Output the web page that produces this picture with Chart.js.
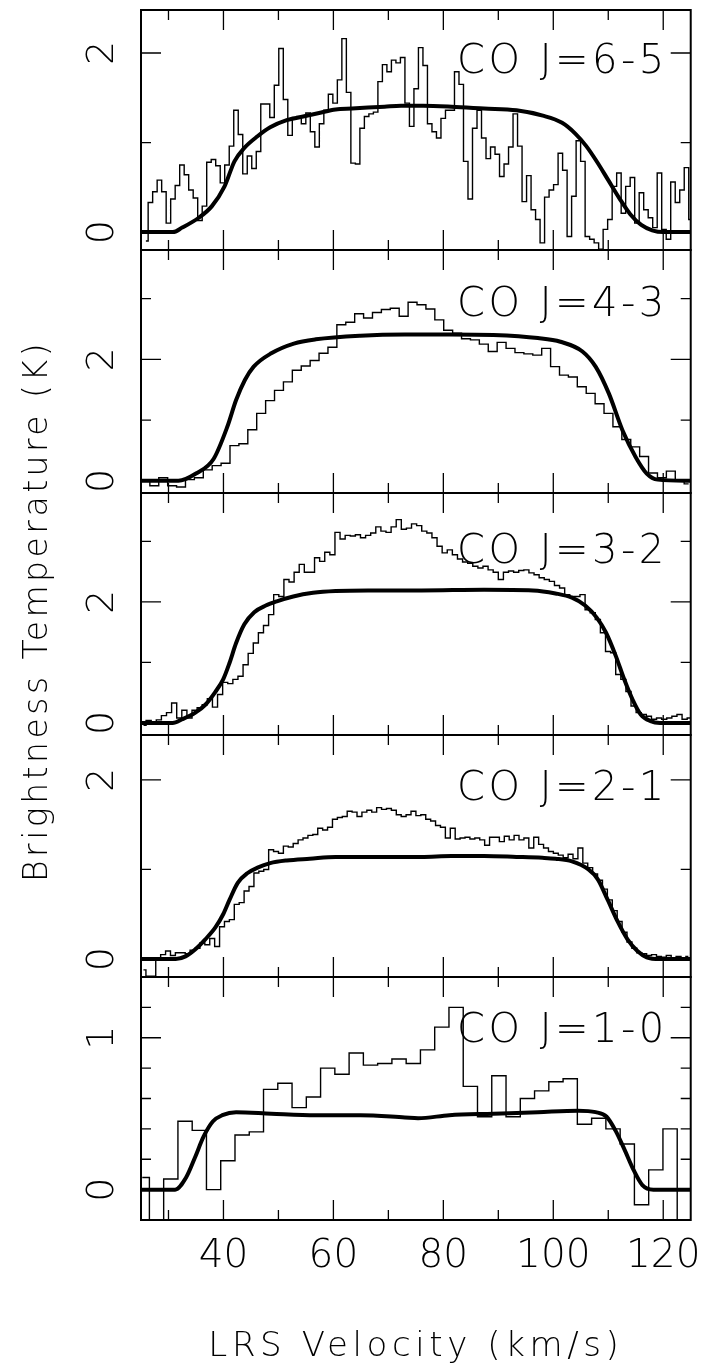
<!DOCTYPE html>
<html>
<head>
<meta charset="utf-8">
<script src="https://cdn.jsdelivr.net/npm/chart.js@4/dist/chart.umd.min.js"></script>
<style>
  html, body { margin: 0; padding: 0; background: #fff; }
  #wrap { width: 714px; height: 1368px; }
</style>
</head>
<body>
<div id="wrap"><canvas id="chart-co-ladder" width="714" height="1368"></canvas></div>
<script>
// velocity axis (km/s)
const velocityMin = 25;
const velocityMax = 125;
const velocityTicks = [30, 40, 50, 60, 70, 80, 90, 100, 110, 120];
const velocityLabels = [40, 60, 80, 100, 120];

// one panel per transition, top to bottom
const panelNames = ['CO J=6-5', 'CO J=4-3', 'CO J=3-2', 'CO J=2-1', 'CO J=1-0'];
const panelMin = [-0.2, -0.2, -0.2, -0.2, -0.2];
const panelMax = [2.48, 3.8, 3.8, 2.5, 1.4];
const panelTicks = [[0, 1, 2], [0, 1, 2, 3], [0, 1, 2, 3], [0, 1, 2], [0, 0.2, 0.4, 0.6, 0.8, 1, 1.2]];
const panelTickLabels = [[0, 2], [0, 2], [0, 2], [0, 2], [0, 1]];

// observed spectra: centre of first channel, channel width, T (K) per channel
const co65Start = 25.89, co65Width = 0.8195;
const co65Obs = [-0.10, 0.33, 0.45, 0.58, 0.45, 0.10, 0.37, 0.52, 0.75, 0.64, 0.47, 0.38, 0.13, 0.29, 0.78, 0.81,
  0.74, 0.55, 0.75, 0.96, 1.36, 1.09, 0.65, 0.85, 0.71, 0.90, 1.43, 1.43, 1.28, 1.64, 2.05, 1.48, 1.08, 1.28, 1.29,
  1.21, 1.33, 1.12, 0.95, 1.21, 1.36, 1.54, 1.44, 1.70, 2.16, 1.56, 0.77, 0.76, 1.16, 1.29, 1.32, 1.34, 1.68, 1.87,
  1.79, 1.92, 1.89, 1.95, 1.44, 1.18, 1.60, 2.06, 1.86, 1.21, 1.12, 1.05, 1.27, 1.36, 1.36, 1.79, 1.65, 0.79, 0.37,
  1.16, 1.36, 1.05, 0.82, 0.95, 0.87, 0.62, 0.76, 0.95, 1.32, 0.96, 0.34, 0.63, 0.25, 0.14, -0.12, 0.39, 0.47, 0.53,
  0.88, 0.69, -0.05, 0.40, 1.02, 0.79, -0.05, -0.08, -0.12, -0.19, 0.03, 0.14, 0.51, 0.66, 0.21, 0.51, 0.61, 0.10,
  0.44, 0.25, 0.16, 0.05, 0.66, 0.03, -0.08, 0.56, 0.33, 0.47, 0.72, 0.14];

const co43Start = 25.8, co43Width = 1.62;
const co43Obs = [0.02, -0.08, 0.05, -0.08, -0.10, 0.02, 0.05, 0.18, 0.25, 0.29, 0.58, 0.61, 0.84, 1.11, 1.32, 1.49,
  1.63, 1.82, 1.89, 1.98, 2.10, 2.20, 2.57, 2.61, 2.75, 2.68, 2.77, 2.82, 2.84, 2.71, 2.94, 2.90, 2.83, 2.65, 2.48,
  2.43, 2.34, 2.32, 2.25, 2.13, 2.28, 2.18, 2.11, 2.09, 2.07, 2.18, 1.88, 1.74, 1.71, 1.55, 1.44, 1.27, 1.11, 0.89,
  0.68, 0.56, 0.40, 0.13, 0.05, 0.16, 0.02, -0.05];

const co32Start = 25.46, co32Width = 0.9286;
const co32Obs = [-0.04, 0.04, 0.02, 0.05, 0.12, 0.17, 0.33, 0.08, 0.21, 0.08, 0.21, 0.25, 0.30, 0.40, 0.26, 0.47,
  0.67, 0.65, 0.72, 0.77, 0.96, 1.15, 1.32, 1.49, 1.61, 1.79, 2.12, 2.09, 2.37, 2.33, 2.49, 2.62, 2.49, 2.49, 2.73,
  2.67, 2.82, 2.78, 3.15, 3.04, 3.10, 3.09, 3.11, 3.06, 3.10, 3.14, 3.24, 3.17, 3.15, 3.24, 3.36, 3.20, 3.22, 3.29,
  3.26, 3.17, 3.14, 3.06, 2.92, 2.81, 2.86, 2.78, 2.71, 2.66, 2.64, 2.59, 2.56, 2.59, 2.53, 2.49, 2.37, 2.49, 2.51,
  2.49, 2.52, 2.53, 2.48, 2.45, 2.40, 2.37, 2.34, 2.27, 2.23, 2.12, 2.09, 2.09, 2.12, 1.87, 1.82, 1.71, 1.49, 1.18,
  1.16, 0.80, 0.72, 0.52, 0.28, 0.17, 0.14, 0.11, 0.06, 0.08, 0.06, 0.08, 0.11, 0.14, 0.06, 0.08, 0.11];

const co21Start = 25.45, co21Width = 0.893;
const co21Obs = [-0.12, -0.19, -0.19, 0.01, 0.05, 0.09, 0.04, 0.07, 0.07, 0.06, 0.10, 0.12, 0.18, 0.16, 0.23, 0.14,
  0.36, 0.42, 0.44, 0.61, 0.63, 0.76, 0.81, 0.96, 0.98, 1.00, 1.22, 1.20, 1.18, 1.26, 1.25, 1.29, 1.33, 1.35, 1.38,
  1.39, 1.46, 1.44, 1.47, 1.56, 1.58, 1.59, 1.65, 1.64, 1.59, 1.64, 1.66, 1.64, 1.69, 1.67, 1.68, 1.66, 1.61, 1.59,
  1.61, 1.65, 1.60, 1.61, 1.56, 1.54, 1.49, 1.47, 1.35, 1.46, 1.34, 1.35, 1.36, 1.34, 1.35, 1.33, 1.27, 1.36, 1.36,
  1.31, 1.37, 1.33, 1.38, 1.33, 1.35, 1.24, 1.36, 1.28, 1.24, 1.20, 1.18, 1.16, 1.13, 1.17, 1.12, 1.24, 1.07, 1.02,
  0.95, 0.88, 0.78, 0.66, 0.54, 0.42, 0.30, 0.19, 0.12, 0.07, 0.06, 0.04, 0.05, 0.03, 0.02, 0.04, 0.01, 0.03, -0.01,
  0.03];

const co10Start = 25.23, co10Width = 2.595;
const co10Obs = [0.08, -0.20, 0.07, 0.45, 0.39, 0.00, 0.19, 0.36, 0.38, 0.66, 0.70, 0.54, 0.61, 0.80, 0.76, 0.90,
  0.82, 0.83, 0.86, 0.83, 0.92, 1.07, 1.20, 0.68, 0.48, 0.75, 0.48, 0.60, 0.65, 0.71, 0.73, 0.43, 0.47, 0.40, 0.30,
  -0.10, 0.13, 0.40, -0.20];

// model line profiles, read at selected velocities
const co65ModelV = [25, 30.8, 32.5, 35.5, 37.9, 40.2, 42.0, 43.8, 46.2, 48.5, 51.5, 54.5, 57.4, 60.4, 63.4, 66.3,
  69.3, 72.3, 76.3, 81.5, 87.4, 93.3, 98.1, 101.6, 104.0, 106.0, 108.0, 110.0, 112.0, 114.0, 116.0, 118.0, 120.0, 125];
const co65ModelT = [0, 0, 0.05, 0.16, 0.29, 0.51, 0.79, 0.94, 1.07, 1.17, 1.25, 1.29, 1.33, 1.37, 1.38, 1.39,
  1.40, 1.41, 1.41, 1.40, 1.38, 1.36, 1.30, 1.22, 1.10, 0.96, 0.78, 0.58, 0.38, 0.20, 0.08, 0.02, 0, 0];

const co43ModelV = [25, 31.8, 35.0, 38.2, 40.7, 42.3, 43.9, 45.5, 48.7, 52.8, 56.8, 64.9, 73.0, 81.1, 89.1, 97.2,
  101.3, 105.3, 107.7, 110.1, 112.6, 115.0, 117.0, 119.0, 125];
const co43ModelT = [0, 0, 0.12, 0.36, 0.89, 1.33, 1.66, 1.88, 2.10, 2.26, 2.33, 2.39, 2.41, 2.41, 2.40, 2.35,
  2.29, 2.13, 1.88, 1.44, 0.83, 0.39, 0.12, 0.02, 0];

const co32ModelV = [25, 30.75, 32.5, 34.9, 36.7, 38.5, 39.95, 41.1, 42.3, 43.8, 45.6, 47.7, 49.7, 52.7, 56.3, 60.4,
  66.3, 76.0, 87.4, 96.3, 100.4, 103.4, 105.8, 107.9, 109.6, 111.4, 112.9, 114.4, 115.9, 117.7, 119.4, 125];
const co32ModelT = [0, 0, 0.06, 0.17, 0.30, 0.51, 0.72, 0.99, 1.32, 1.63, 1.83, 1.94, 2.01, 2.09, 2.15, 2.18,
  2.19, 2.19, 2.20, 2.19, 2.14, 2.07, 1.94, 1.74, 1.49, 1.10, 0.72, 0.39, 0.14, 0.03, 0, 0];

const co21ModelV = [25, 31.3, 33.1, 34.9, 36.7, 38.5, 39.95, 41.1, 42.6, 44.4, 46.2, 48.5, 51.5, 55.7, 60.4, 66.3,
  76.0, 81.5, 87.4, 93.3, 98.0, 100.4, 103.4, 106.4, 108.1, 109.9, 111.7, 113.5, 115.3, 117.0, 119.4, 125];
const co21ModelT = [0, 0, 0.03, 0.11, 0.22, 0.35, 0.50, 0.66, 0.85, 0.96, 1.02, 1.07, 1.10, 1.12, 1.14, 1.14,
  1.14, 1.15, 1.15, 1.14, 1.13, 1.12, 1.09, 1.00, 0.89, 0.66, 0.42, 0.22, 0.09, 0.02, 0, 0];

const co10ModelV = [25, 31.2, 33.2, 34.8, 36.4, 38.1, 39.8, 42.3, 48.7, 56.8, 64.9, 73.0, 75.4, 81.1, 89.1, 97.2,
  104.5, 107.7, 109.7, 111.3, 113.0, 114.6, 116.2, 118.2, 125];
const co10ModelT = [0, 0, 0.08, 0.21, 0.35, 0.45, 0.49, 0.51, 0.50, 0.49, 0.49, 0.475, 0.47, 0.49, 0.50, 0.51,
  0.52, 0.51, 0.48, 0.39, 0.26, 0.13, 0.03, 0, 0];

const spectra = [
  { start: co65Start, width: co65Width, obs: co65Obs, modelV: co65ModelV, modelT: co65ModelT },
  { start: co43Start, width: co43Width, obs: co43Obs, modelV: co43ModelV, modelT: co43ModelT },
  { start: co32Start, width: co32Width, obs: co32Obs, modelV: co32ModelV, modelT: co32ModelT },
  { start: co21Start, width: co21Width, obs: co21Obs, modelV: co21ModelV, modelT: co21ModelT },
  { start: co10Start, width: co10Width, obs: co10Obs, modelV: co10ModelV, modelT: co10ModelT }
];

// ---- layout / style ----
const fontFamily = '"DejaVu Sans", "Liberation Sans", sans-serif';
const fontWeight = '200';
const panelHeights = [240, 243, 242, 242, 243];
const labelBaseline = [62.5, 66, 70, 65, 64.5]; // px below top of panel
const axisWidth = 141;

const datasets = [];
spectra.forEach((s, i) => {
    datasets.push({
        label: panelNames[i] + ' observed',
        data: s.obs.map((t, k) => ({ x: s.start + k * s.width, y: t })),
        yAxisID: 'y' + i,
        stepped: 'middle',
        borderColor: '#000',
        borderWidth: 1.4,
        borderJoinStyle: 'miter',
        pointRadius: 0,
        fill: false
    });
    datasets.push({
        label: panelNames[i] + ' model',
        data: s.modelV.map((v, k) => ({ x: v, y: s.modelT[k] })),
        yAxisID: 'y' + i,
        cubicInterpolationMode: 'monotone',
        borderColor: '#000',
        borderWidth: 4,
        pointRadius: 0,
        fill: false
    });
});

const scales = {
    x: {
        type: 'linear',
        position: 'bottom',
        min: velocityMin,
        max: velocityMax,
        afterBuildTicks: s => { s.ticks = velocityTicks.map(v => ({ value: v })); },
        afterFit: s => { s.height = 148; },
        grid: { display: false, drawTicks: false },
        border: { display: false },
        ticks: {
            autoSkip: false,
            maxRotation: 0,
            padding: 13,
            color: '#000',
            font: { family: fontFamily, size: 39, weight: fontWeight },
            callback: v => velocityLabels.includes(v) ? String(v) : ''
        }
    }
};
panelNames.forEach((name, i) => {
    scales['y' + i] = {
        type: 'linear',
        position: 'left',
        stack: 'panels',
        stackWeight: panelHeights[i],
        weight: panelNames.length - i,
        min: panelMin[i],
        max: panelMax[i],
        afterBuildTicks: s => { s.ticks = panelTicks[i].map(v => ({ value: v })); },
        afterFit: s => { s.width = axisWidth; },
        grid: { display: false, drawTicks: false },
        border: { display: false },
        ticks: { display: false }
    };
});

// frames, inward ticks, rotated tick labels, panel names and axis titles
const framePlugin = {
    id: 'frames',
    afterDatasetsDraw(chart) {
        const ctx = chart.ctx;
        const xs = chart.scales.x;
        const { left, right, top, bottom } = chart.chartArea;
        ctx.save();
        ctx.strokeStyle = '#000';
        ctx.fillStyle = '#000';

        panelNames.forEach((name, i) => {
            const ys = chart.scales['y' + i];
            ctx.lineWidth = 2;
            ctx.strokeRect(left, ys.top, right - left, ys.bottom - ys.top);

            ctx.lineWidth = 1.3;
            ctx.beginPath();
            xs.ticks.forEach(t => {
                const px = xs.getPixelForValue(t.value);
                const len = velocityLabels.includes(t.value) ? 20 : 10;
                ctx.moveTo(px, ys.top);
                ctx.lineTo(px, ys.top + len);
                ctx.moveTo(px, ys.bottom);
                ctx.lineTo(px, ys.bottom - len);
            });
            ys.ticks.forEach(t => {
                const py = ys.getPixelForValue(t.value);
                const len = panelTickLabels[i].includes(t.value) ? 20 : 10;
                ctx.moveTo(left, py);
                ctx.lineTo(left + len, py);
                ctx.moveTo(right, py);
                ctx.lineTo(right - len, py);
            });
            ctx.stroke();

            // tick labels, written along the axis
            ctx.font = fontWeight + ' 38px ' + fontFamily;
            ctx.textAlign = 'center';
            ctx.textBaseline = 'alphabetic';
            panelTickLabels[i].forEach(v => {
                ctx.save();
                ctx.translate(113, ys.getPixelForValue(v));
                ctx.rotate(-Math.PI / 2);
                ctx.fillText(String(v), 0, 0);
                ctx.restore();
            });

            ctx.save();
            ctx.font = fontWeight + ' 40px ' + fontFamily;
            ctx.letterSpacing = '3.5px';
            ctx.textAlign = 'left';
            ctx.fillText(name, 457, ys.top + labelBaseline[i]);
            ctx.restore();
        });

        ctx.save();
        ctx.font = fontWeight + ' 34px ' + fontFamily;
        ctx.letterSpacing = '4.6px';
        ctx.textAlign = 'center';
        ctx.textBaseline = 'alphabetic';
        ctx.fillText('LRS Velocity (km/s)', (left + right) / 2, 1356);
        ctx.font = fontWeight + ' 33px ' + fontFamily;
        ctx.letterSpacing = '3.5px';
        ctx.translate(47, (top + bottom) / 2 - 4);
        ctx.rotate(-Math.PI / 2);
        ctx.fillText('Brightness Temperature (K)', 0, 0);
        ctx.restore();

        ctx.restore();
    }
};

new Chart(document.getElementById('chart-co-ladder'), {
    type: 'line',
    data: { datasets: datasets },
    options: {
        responsive: false,
        animation: false,
        devicePixelRatio: 1,
        layout: { padding: { top: 10, right: 11, left: 0, bottom: 0 } },
        scales: scales,
        plugins: {
            legend: { display: false },
            tooltip: { enabled: false }
        }
    },
    plugins: [framePlugin]
});
</script>
</body>
</html>
